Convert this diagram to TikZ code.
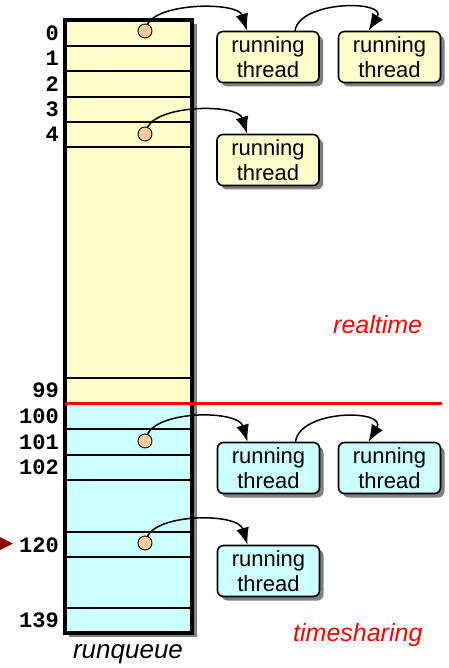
\documentclass[tikz,border=0pt]{standalone}
\usepackage{fontspec}
\setmainfont{Liberation Sans}
\newfontfamily\prionumfont{Liberation Mono}
\usetikzlibrary{shadows,arrows.meta}

\definecolor{rtfill}{HTML}{FFFFCC}
\definecolor{tsfill}{HTML}{CCFFFF}
\definecolor{dotfill}{HTML}{FFCC99}
\definecolor{prioarrow}{HTML}{8B0000}

\begin{document}
\begin{tikzpicture}[x=1pt,y=-1pt,
  thread/.style={draw, line width=1.6pt, rounded corners=6pt,
    minimum width=102pt, minimum height=51pt, inner sep=0pt, align=center,
    font=\fontsize{22}{25}\selectfont,
    drop shadow={shadow xshift=4pt, shadow yshift=-4pt, fill=black!50, opacity=1}},
  rtthread/.style={thread, fill=rtfill},
  tsthread/.style={thread, fill=tsfill},
  slotdot/.style={circle, draw, line width=0.9pt, fill=dotfill,
    minimum size=14pt, inner sep=0pt},
  prio/.style={anchor=east, inner sep=0pt,
    font=\prionumfont\bfseries\fontsize{22}{24}\selectfont},
  link/.style={line width=1.5pt, -{Latex[length=17pt,width=13pt]}},
  slotline/.style={line width=2.6pt},
  classlabel/.style={anchor=base west, inner sep=0pt, text=red,
    font=\itshape\fontsize{25}{30}\selectfont}]

\useasboundingbox (0,0) rectangle (448,668);

% run queue: shadow, two priority classes, slot separators, frame
\fill[black!50] (69,24) rectangle (197,637);
\fill[rtfill] (65,20) rectangle (192,403);
\fill[tsfill] (65,403) rectangle (192,633);
\foreach \y in {46,71,97,122,147,378,429,455,480,532,557,608}
  \draw[slotline] (65,\y) -- (192,\y);
\draw[line width=3.2pt] (65,20) rectangle (192,633);

% boundary between realtime and timesharing priorities
\draw[red, line width=3pt] (65,403) -- (442,403);

% priority numbers
\node[prio] (p0)   at (59,33)  {0};
\node[prio] (p1)   at (59,58)  {1};
\node[prio] (p2)   at (59,84)  {2};
\node[prio] (p3)   at (59,109) {3};
\node[prio] (p4)   at (59,134) {4};
\node[prio] (p99)  at (59,390) {99};
\node[prio] (p100) at (59,416) {100};
\node[prio] (p101) at (59,442) {101};
\node[prio] (p102) at (59,467) {102};
\node[prio] (p120) at (59,545) {120};
\node[prio] (p139) at (59,620) {139};

% default priority marker
\fill[prioarrow] (0,537) -- (13,543.5) -- (0,550) -- cycle;

% queue heads
\node[slotdot] (d0)   at (145,31)  {};
\node[slotdot] (d4)   at (145,134) {};
\node[slotdot] (d101) at (145,441) {};
\node[slotdot] (d120) at (145,543) {};

% threads
\node[rtthread] (t0a)   at (268,57)    {running\\thread};
\node[rtthread] (t0b)   at (389.5,57)  {running\\thread};
\node[rtthread] (t4a)   at (268,160)   {running\\thread};
\node[tsthread] (t101a) at (268.5,468) {running\\thread};
\node[tsthread] (t101b) at (389.5,468) {running\\thread};
\node[tsthread] (t120a) at (268.5,571) {running\\thread};

% links
\draw[link] (d0.70) .. controls (160,2) and (238,2) .. ([xshift=-21pt]t0a.north);
\draw[link] ([xshift=27pt]t0a.north) .. controls (300,0) and (388,0) .. ([xshift=-21pt]t0b.north);
\draw[link] (d4.70) .. controls (160,104) and (238,104) .. ([xshift=-21pt]t4a.north);
\draw[link] (d101.70) .. controls (160,410) and (238,410) .. ([xshift=-21pt]t101a.north);
\draw[link] ([xshift=27pt]t101a.north) .. controls (300,409) and (388,409) .. ([xshift=-21pt]t101b.north);
\draw[link] (d120.70) .. controls (160,513) and (238,513) .. ([xshift=-21pt]t120a.north);

% captions
\node[classlabel] (rt) at (333,333) {realtime};
\node[classlabel] (ts) at (293,641) {timesharing};
\node[anchor=base, inner sep=0pt, font=\itshape\fontsize{26}{30}\selectfont]
  (rq) at (128,658) {runqueue};
\end{tikzpicture}
\end{document}
